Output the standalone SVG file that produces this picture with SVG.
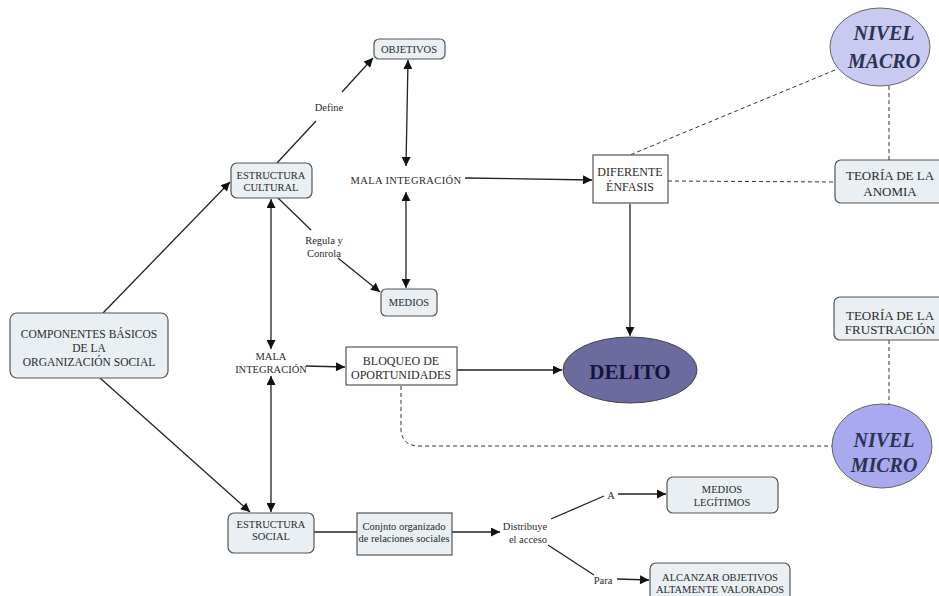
<svg xmlns="http://www.w3.org/2000/svg" width="939" height="596" viewBox="0 0 939 596">
<defs>
<marker id="ah" viewBox="0 0 10 10" refX="10" refY="5" markerWidth="11" markerHeight="9" markerUnits="userSpaceOnUse" orient="auto-start-reverse"><path d="M0,0 L10,5 L0,10 z" fill="#111"/></marker>
</defs>
<style>
text{font-family:"Liberation Serif","DejaVu Serif",serif;fill:#2a2a2a;text-anchor:middle;dominant-baseline:central}
.node{fill:#e9eff2;stroke:#555;stroke-width:1.2}
.box{fill:#fff;stroke:#555;stroke-width:1.2}
.c{fill:none;stroke:#222;stroke-width:1.3}
.a{marker-end:url(#ah)}
.b{marker-start:url(#ah);marker-end:url(#ah)}
.d{fill:none;stroke:#333;stroke-width:1;stroke-dasharray:4,3}
.s10{font-size:10.5px}
.lab{font-size:10.5px}
.big{font-size:20px;font-weight:bold;font-style:italic;fill:#2b3350}
.f12{font-size:12px}
.f13{font-size:13px}
.f115{font-size:11.5px}
.del{font-size:21px;font-weight:bold;fill:#14143a}
</style>
<rect width="939" height="596" fill="#fff"/>
<g id="connectors">
<path class="c a" d="M103,313 L230,182"/>
<path class="c a" d="M100,378 L250,512"/>
<path class="c" d="M277,163 L316,121"/>
<path class="c a" d="M342,92 L373,58"/>
<path class="c" d="M278,198 L311,230"/>
<path class="c a" d="M338,258 L380,292"/>
<path class="c b" d="M408,60 L406,166"/>
<path class="c b" d="M406,192 L406,288"/>
<path class="c a" d="M465,178 L592,180"/>
<path class="c a" d="M630,204 L630,336"/>
<path class="c b" d="M271,199 L271,349"/>
<path class="c b" d="M271,376 L271,512"/>
<path class="c a" d="M306,366 L345,367"/>
<path class="c a" d="M457,370 L562,370"/>
<path class="c" d="M314,532 L357,532"/>
<path class="c a" d="M452,532 L500,532"/>
<path class="c" d="M551,519 L604,496"/>
<path class="c a" d="M618,494 L666,494"/>
<path class="c" d="M548,545 L594,575"/>
<path class="c a" d="M617,579 L649,580"/>
<path class="d" d="M835,70 L630,155"/>
<path class="d" d="M668,181 L835,182"/>
<path class="d" d="M889,86 L889,160"/>
<path class="d" d="M889,340 L889,405"/>
<path class="d" d="M401,386 L401,430 Q402,446 420,446 L833,446"/>
<text x="329" y="107" class="lab">Define</text>
<text x="324" y="240" class="lab">Regula y</text>
<text x="324" y="253" class="lab">Conrola</text>
<text x="525" y="526" class="lab">Distribuye</text>
<text x="528" y="539" class="lab">el acceso</text>
<text x="611" y="495" class="lab">A</text>
<text x="603" y="580" class="lab">Para</text>
</g>
<g id="componentes">
<rect class="node" x="10" y="313" width="158" height="65" rx="7"/>
<text x="89" y="334" class="f115">COMPONENTES BÁSICOS</text>
<text x="89" y="348" class="f115">DE LA</text>
<text x="89" y="362" class="f115">ORGANIZACIÓN SOCIAL</text>
</g>
<g id="estructura-cultural">
<rect class="node" x="231" y="163" width="81" height="35" rx="6"/>
<text x="271" y="175" class="s10">ESTRUCTURA</text>
<text x="271" y="187" class="s10">CULTURAL</text>
</g>
<g id="objetivos">
<rect class="node" x="374" y="39" width="71" height="20" rx="5"/>
<text x="409" y="49" class="s10">OBJETIVOS</text>
</g>
<g id="mala-integracion-1">
<text x="406" y="180" class="s10" letter-spacing="0.4">MALA INTEGRACIÓN</text>
</g>
<g id="medios">
<rect class="node" x="381" y="289" width="56" height="27" rx="5"/>
<text x="409" y="302" class="s10">MEDIOS</text>
</g>
<g id="diferente-enfasis">
<rect class="box" x="593" y="155" width="75" height="48"/>
<text x="630" y="172" class="f12">DIFERENTE</text>
<text x="630" y="187" class="f12">ÉNFASIS</text>
</g>
<g id="nivel-macro">
<ellipse cx="880" cy="47" rx="50" ry="39" fill="#c9c9f2" stroke="#666" stroke-width="1"/>
<text x="884" y="33" class="big">NIVEL</text>
<text x="884" y="61" class="big">MACRO</text>
</g>
<g id="teoria-anomia">
<rect class="node" x="835" y="160" width="115" height="43" rx="6"/>
<text x="890" y="175" class="f13">TEORÍA DE LA</text>
<text x="890" y="191" class="f13">ANOMIA</text>
</g>
<g id="teoria-frustracion">
<rect class="node" x="834" y="297" width="115" height="43" rx="6"/>
<text x="890" y="315" class="f13">TEORÍA DE LA</text>
<text x="890" y="329" class="f13">FRUSTRACIÓN</text>
</g>
<g id="nivel-micro">
<ellipse cx="882" cy="446" rx="50" ry="42" fill="#a9a9f0" stroke="#666" stroke-width="1"/>
<text x="884" y="440" class="big">NIVEL</text>
<text x="884" y="465" class="big">MICRO</text>
</g>
<g id="mala-integracion-2">
<text x="271" y="356" class="s10">MALA</text>
<text x="271" y="369" class="s10">INTEGRACIÓN</text>
</g>
<g id="bloqueo">
<rect class="box" x="346" y="347" width="111" height="38"/>
<text x="401" y="361" class="f12">BLOQUEO DE</text>
<text x="401" y="375" class="f12">OPORTUNIDADES</text>
</g>
<g id="delito">
<ellipse cx="630" cy="370" rx="67" ry="33" fill="#6b6ba0" stroke="#444" stroke-width="1"/>
<text x="630" y="372" class="del">DELITO</text>
</g>
<g id="estructura-social">
<rect class="node" x="228" y="513" width="86" height="40" rx="6"/>
<text x="271" y="524" class="s10">ESTRUCTURA</text>
<text x="271" y="536" class="s10">SOCIAL</text>
</g>
<g id="conjunto">
<rect class="node" x="357" y="513" width="95" height="42"/>
<text x="404" y="526" class="s10">Conjnto organizado</text>
<text x="404" y="538" class="s10">de relaciones sociales</text>
</g>
<g id="medios-legitimos">
<rect class="node" x="667" y="477" width="111" height="36" rx="6"/>
<text x="722" y="489" class="s10">MEDIOS</text>
<text x="722" y="502" class="s10">LEGÍTIMOS</text>
</g>
<g id="alcanzar">
<rect class="node" x="650" y="563" width="140" height="45" rx="6"/>
<text x="720" y="577" class="s10">ALCANZAR OBJETIVOS</text>
<text x="720" y="589" class="s10">ALTAMENTE VALORADOS</text>
</g>
</svg>
